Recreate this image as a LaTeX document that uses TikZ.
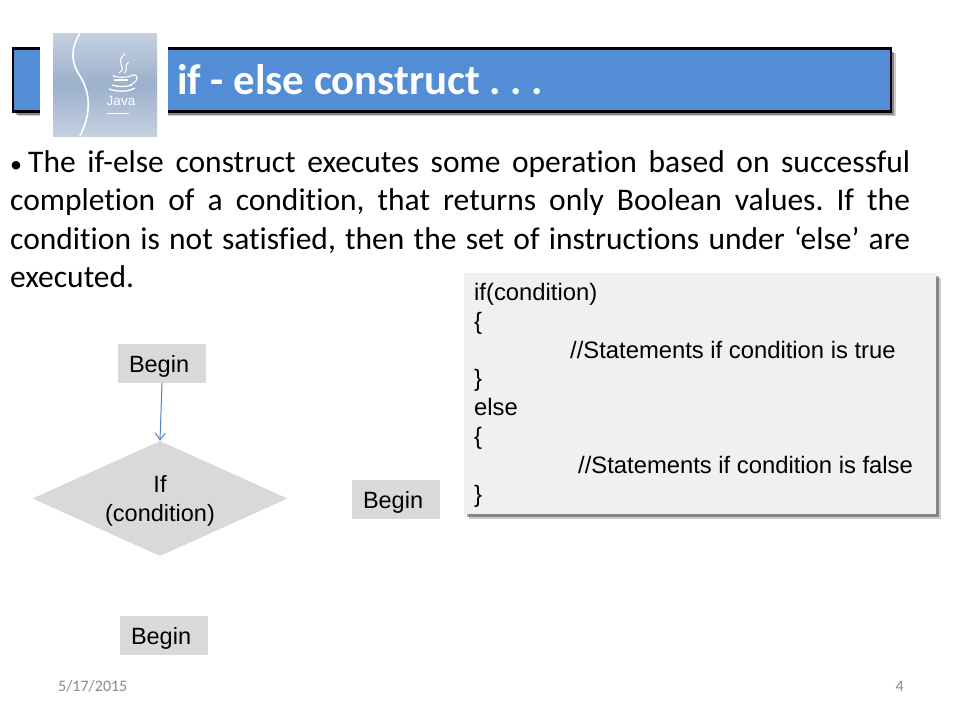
\documentclass[tikz,border=0pt]{standalone}
\usepackage{fontspec}
\setmainfont{Carlito}[Ligatures=NoCommon]
\newfontfamily\arialfont{Liberation Sans}
\usepackage{tikz}
\usetikzlibrary{positioning, arrows.meta, shapes.geometric, shadows}
\definecolor{barblue}{RGB}{83,141,213}
\definecolor{boxgray}{RGB}{217,217,217}
\definecolor{codegray}{RGB}{240,240,240}
\definecolor{linkblue}{RGB}{79,129,189}
\definecolor{footgray}{RGB}{137,137,137}
\definecolor{logotop}{RGB}{196,208,224}
\definecolor{logomid}{RGB}{156,176,204}
\frenchspacing
\tikzset{
>={Straight Barb[length=7pt, width=10pt]}, % open arrow head of the flow line
softshadow/.style={drop shadow={shadow xshift=4.5pt, shadow yshift=-4.5pt, fill=black, opacity=.2}, drop shadow={shadow xshift=3pt, shadow yshift=-3pt, fill=black, opacity=.35}},
titlebar/.style={draw=black, line width=2.5pt, fill=barblue, softshadow},
labelbox/.style={fill=boxgray, minimum width=88pt, minimum height=39pt, inner sep=0pt, text width=66pt, align=left, text height=17pt, text depth=0pt, font=\arialfont\fontsize{23.5}{27}\selectfont},
decision/.style={diamond, fill=boxgray, minimum width=255pt, minimum height=115pt, aspect=2.2, inner sep=0pt, align=center, font=\arialfont\fontsize{23.5}{29}\selectfont},
codebox/.style={fill=codegray, anchor=north west, minimum width=472pt, minimum height=241pt, inner sep=0pt, softshadow},
footer/.style={text=footgray, font=\fontsize{16}{18}\selectfont},
}
\begin{document}
\begin{tikzpicture}[x=1pt, y=-1pt]
  \useasboundingbox (0,0) rectangle (960,720);
  % title bar and logo
  \node[titlebar, minimum width=878pt, minimum height=63pt, inner sep=0pt] (bar) at (452,80) {};
  \fill[white] (40,30) rectangle (168,140);
  \shade[top color=logotop, bottom color=logotop, middle color=logomid] (53,33) rectangle (157,136);
  \draw[white, line width=1.6pt] (80,33) .. controls (70,50) and (71,62) .. (80,76) .. controls (90,92) and (92,112) .. (80,136);
  \draw[white, line width=1.1pt] (125,54) .. controls (113,64) and (129,66) .. (119,73);
  \draw[white, line width=1.1pt] (129,62) .. controls (122,67) and (130,69) .. (124,73);
  \draw[white, line width=1.1pt] (113,75) .. controls (112,78) and (132,78) .. (132,75);
  \draw[white, line width=1.1pt] (132,75) .. controls (140,74) and (138,82) .. (130,85);
  \draw[white, line width=1.3pt] (114,80) -- (128,80);
  \draw[white, line width=1.3pt] (112,85) .. controls (118,87) and (126,87) .. (132,85);
  \draw[white, line width=1.3pt] (109,89) .. controls (118,92) and (128,92) .. (135,88);
  \node[text=white, font=\arialfont\fontsize{13.5}{16}\selectfont, inner sep=0pt] (javaword) at (121,101) {Java};
  \draw[white, line width=0.8pt] (107,113) -- (129,113);
  \node[anchor=west, text=white, font=\bfseries\fontsize{42.8}{44}\selectfont, inner sep=0pt] (heading) at (177,80) {if - else construct . . .};
  % body text
  \node[anchor=north west, text width=900pt, inner sep=0pt, font=\fontsize{31.5}{38.5}\selectfont, align=justify] (para) at (10,150) {%
    \makebox[18pt][l]{\fontsize{24}{24}\selectfont •}The if-else construct executes some operation based on successful\linebreak
    completion of a condition, that returns only Boolean values. If the\linebreak
    condition is not satisfied, then the set of instructions under ‘else’ are\linebreak
    executed.};
  % flow
  \node[labelbox] (beginA) at (162,363.5) {Begin};
  \node[decision] (cond) at (160,498.5) {\rule{0pt}{21pt}If\\(condition)};
  \node[labelbox] (beginB) at (396,499.5) {Begin};
  \node[labelbox] (beginC) at (164,635.5) {Begin};
  \draw[->, linkblue, line width=1pt] (beginA.south) -- (cond.north);
  % code listing
  \node[codebox] (code) at (464,273) {};
  \node[anchor=north west, inner sep=0pt, align=left, font=\arialfont\fontsize{23.8}{28.8}\selectfont] (listing) at (474,283) {%
    if(condition)\\
    \{\\
    \hspace{96pt}//Statements if condition is true\\
    \}\\
    else\\
    \{\\
    \hspace{104pt}//Statements if condition is false\\
    \}};
  % footer
  \node[footer, anchor=west, inner sep=0pt] (datefoot) at (58,686) {5/17/2015};
  \node[footer, anchor=east, inner sep=0pt] (pagefoot) at (904,686) {4};
\end{tikzpicture}
\end{document}
